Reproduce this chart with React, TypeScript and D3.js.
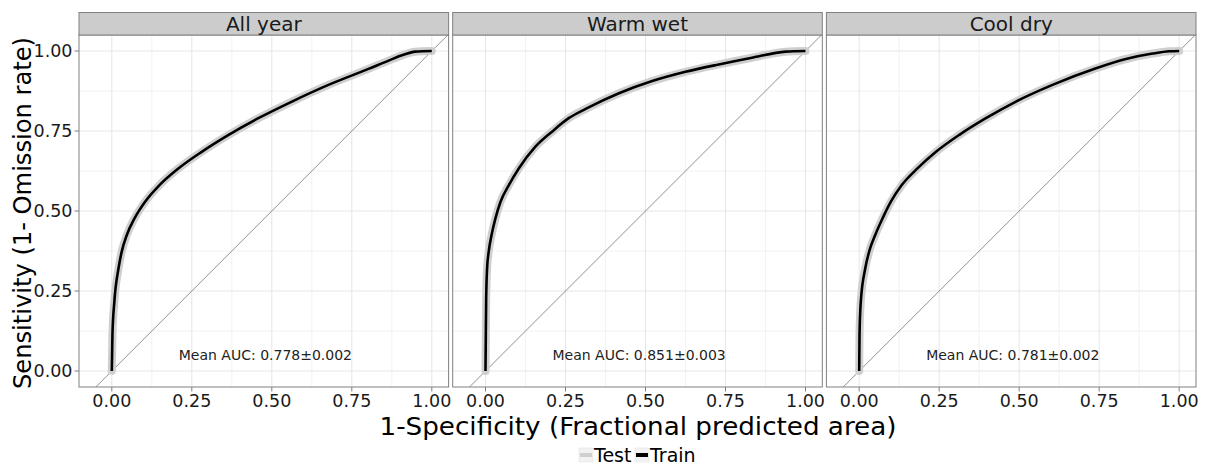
import React, { useRef, useEffect } from "react";
import * as d3 from "d3";

// facet panels
const panelNames = ["All year", "Warm wet", "Cool dry"];
const aucLabels = [
  "Mean AUC: 0.778±0.002",
  "Mean AUC: 0.851±0.003",
  "Mean AUC: 0.781±0.002",
];
const tickValues = [0, 0.25, 0.5, 0.75, 1];
const tickLabels = ["0.00", "0.25", "0.50", "0.75", "1.00"];

// ROC curves (1-specificity, sensitivity)
const fprAllYear = [0, 0.002, 0.008, 0.021, 0.031, 0.047, 0.071, 0.104, 0.149, 0.208, 0.281, 0.365, 0.458, 0.563, 0.677, 0.802, 0.865, 0.911, 0.948, 1];
const tprAllYear = [0, 0.113, 0.217, 0.321, 0.373, 0.425, 0.477, 0.529, 0.581, 0.633, 0.685, 0.738, 0.79, 0.842, 0.894, 0.944, 0.97, 0.988, 0.998, 1];

const fprWarmWet = [0, 0.001, 0.002, 0.003, 0.005, 0.01, 0.019, 0.031, 0.047, 0.073, 0.104, 0.156, 0.208, 0.26, 0.313, 0.417, 0.521, 0.625, 0.729, 0.833, 0.938, 1];
const tprWarmWet = [0, 0.113, 0.217, 0.269, 0.321, 0.373, 0.425, 0.477, 0.529, 0.581, 0.633, 0.701, 0.748, 0.79, 0.819, 0.868, 0.906, 0.935, 0.958, 0.979, 0.998, 1];

const fprCoolDry = [0, 0.001, 0.005, 0.019, 0.031, 0.05, 0.073, 0.099, 0.133, 0.182, 0.24, 0.313, 0.396, 0.49, 0.604, 0.74, 0.833, 0.917, 0.969, 1];
const tprCoolDry = [0, 0.113, 0.217, 0.321, 0.373, 0.425, 0.477, 0.529, 0.581, 0.633, 0.685, 0.738, 0.79, 0.842, 0.894, 0.946, 0.975, 0.992, 0.999, 1];

const fprs = [fprAllYear, fprWarmWet, fprCoolDry];
const tprs = [tprAllYear, tprWarmWet, tprCoolDry];

const legendNames = ["Test", "Train"];

const FONT = "DejaVu Sans";

const App = () => {
  const svgRef = useRef<SVGSVGElement>(null);

  useEffect(() => {
    const svg = d3.select(svgRef.current);
    svg.selectAll("*").remove();

    const width = 1211;
    const height = 466;
    svg.attr("width", width).attr("height", height);
    svg.append("rect").attr("width", width).attr("height", height).attr("fill", "white");

    const plotLeft = 79;
    const panelW = 369.6;
    const gap = 4.1;
    const top = 35;
    const bottom = 387;
    const stripTop = 12.5;

    const yScale = d3.scaleLinear().domain([-0.05, 1.05]).range([bottom, top]);
    const minorTicks = [-0.125, 0.125, 0.375, 0.625, 0.875];

    panelNames.forEach((name, i) => {
      const left = plotLeft + i * (panelW + gap);
      const xScale = d3.scaleLinear().domain([-0.1025, 1.0525]).range([left, left + panelW]);
      const g = svg.append("g");

      const clipId = `clip-${i}`;
      svg
        .append("defs")
        .append("clipPath")
        .attr("id", clipId)
        .append("rect")
        .attr("x", left)
        .attr("y", top)
        .attr("width", panelW)
        .attr("height", bottom - top);

      // grid
      const grid = g.append("g").attr("clip-path", `url(#${clipId})`);
      minorTicks.forEach((t) => {
        grid.append("line").attr("x1", xScale(t)).attr("x2", xScale(t)).attr("y1", top).attr("y2", bottom)
          .attr("stroke", "#f2f2f2").attr("stroke-width", 1);
        grid.append("line").attr("x1", left).attr("x2", left + panelW).attr("y1", yScale(t)).attr("y2", yScale(t))
          .attr("stroke", "#f2f2f2").attr("stroke-width", 1);
      });
      tickValues.forEach((t) => {
        grid.append("line").attr("x1", xScale(t)).attr("x2", xScale(t)).attr("y1", top).attr("y2", bottom)
          .attr("stroke", "#e6e6e6").attr("stroke-width", 1);
        grid.append("line").attr("x1", left).attr("x2", left + panelW).attr("y1", yScale(t)).attr("y2", yScale(t))
          .attr("stroke", "#e6e6e6").attr("stroke-width", 1);
      });

      // diagonal reference
      grid
        .append("line")
        .attr("x1", xScale(-0.2))
        .attr("y1", yScale(-0.2))
        .attr("x2", xScale(1.2))
        .attr("y2", yScale(1.2))
        .attr("stroke", "#444")
        .attr("stroke-width", 0.6);

      const pts = fprs[i].map((x, k) => [x, tprs[i][k]] as [number, number]);
      const line = d3
        .line<[number, number]>()
        .x((d) => xScale(d[0]))
        .y((d) => yScale(d[1]))
        .curve(d3.curveMonotoneX);

      // test (grey band) then train (black)
      grid.append("path").attr("d", line(pts)).attr("fill", "none")
        .attr("stroke", "#cfcfcf").attr("stroke-width", 8).attr("stroke-linejoin", "round").attr("stroke-linecap", "round");
      grid.append("path").attr("d", line(pts)).attr("fill", "none")
        .attr("stroke", "#000").attr("stroke-width", 2.6).attr("stroke-linejoin", "round");

      // AUC label
      g.append("text")
        .attr("x", xScale(0.48))
        .attr("y", yScale(0.05))
        .attr("dy", "0.35em")
        .attr("text-anchor", "middle")
        .attr("font-family", FONT)
        .attr("font-size", 14)
        .attr("fill", "#222")
        .text(aucLabels[i]);

      // panel border
      g.append("rect").attr("x", left).attr("y", top).attr("width", panelW).attr("height", bottom - top)
        .attr("fill", "none").attr("stroke", "#808080").attr("stroke-width", 1);

      // strip
      g.append("rect").attr("x", left).attr("y", stripTop).attr("width", panelW).attr("height", top - stripTop)
        .attr("fill", "#cccccc").attr("stroke", "#808080").attr("stroke-width", 1);
      g.append("text")
        .attr("x", left + panelW / 2)
        .attr("y", (stripTop + top) / 2)
        .attr("dy", "0.36em")
        .attr("text-anchor", "middle")
        .attr("font-family", FONT)
        .attr("font-size", 20)
        .attr("fill", "#1a1a1a")
        .text(name);

      // x axis
      const xAxis = g.append("g").attr("transform", `translate(0, ${bottom})`);
      tickValues.forEach((t, k) => {
        xAxis.append("line").attr("x1", xScale(t)).attr("x2", xScale(t)).attr("y1", 0).attr("y2", 4.5)
          .attr("stroke", "#7f7f7f");
        xAxis.append("text")
          .attr("x", xScale(t))
          .attr("y", 20)
          .attr("text-anchor", "middle")
          .attr("font-family", FONT)
          .attr("font-size", 17.5)
          .attr("fill", "#1a1a1a")
          .text(tickLabels[k]);
      });

      // y axis only on first panel
      if (i === 0) {
        const yAxis = g.append("g").attr("transform", `translate(${left}, 0)`);
        tickValues.forEach((t, k) => {
          yAxis.append("line").attr("x1", -4.5).attr("x2", 0).attr("y1", yScale(t)).attr("y2", yScale(t))
            .attr("stroke", "#7f7f7f");
          yAxis.append("text")
            .attr("x", -6.5)
            .attr("y", yScale(t))
            .attr("dy", "0.36em")
            .attr("text-anchor", "end")
            .attr("font-family", FONT)
            .attr("font-size", 17.5)
            .attr("fill", "#1a1a1a")
            .text(tickLabels[k]);
        });
      }
    });

    // axis titles
    svg.append("text")
      .attr("x", 638)
      .attr("y", 435)
      .attr("text-anchor", "middle")
      .attr("font-family", FONT)
      .attr("font-size", 25)
      .attr("textLength", 517)
      .attr("lengthAdjust", "spacingAndGlyphs")
      .attr("fill", "#000")
      .text("1-Specificity (Fractional predicted area)");

    svg.append("text")
      .attr("transform", `translate(31, 213) rotate(-90)`)
      .attr("text-anchor", "middle")
      .attr("font-family", FONT)
      .attr("font-size", 25)
      .attr("textLength", 352)
      .attr("lengthAdjust", "spacingAndGlyphs")
      .attr("fill", "#000")
      .text("Sensitivity (1- Omission rate)");

    // legend
    const legend = svg.append("g");
    const keyX = [579, 635];
    const textX = [594, 650];
    const keyColors = ["#cfcfcf", "#000"];
    legendNames.forEach((n, k) => {
      legend.append("rect").attr("x", keyX[k]).attr("y", 448).attr("width", 14).attr("height", 14)
        .attr("fill", "#f2f2f2").attr("stroke", "#e0e0e0").attr("stroke-width", 0.5);
      legend.append("line").attr("x1", keyX[k] + 1).attr("x2", keyX[k] + 13).attr("y1", 455).attr("y2", 455)
        .attr("stroke", keyColors[k]).attr("stroke-width", 4);
      legend.append("text")
        .attr("x", textX[k])
        .attr("y", 455)
        .attr("dy", "0.36em")
        .attr("font-family", FONT)
        .attr("font-size", 19)
        .attr("fill", "#000")
        .text(n);
    });
  }, []);

  return <svg ref={svgRef} style={{ position: "absolute", left: 0, top: 0 }} />;
};

export default App;
